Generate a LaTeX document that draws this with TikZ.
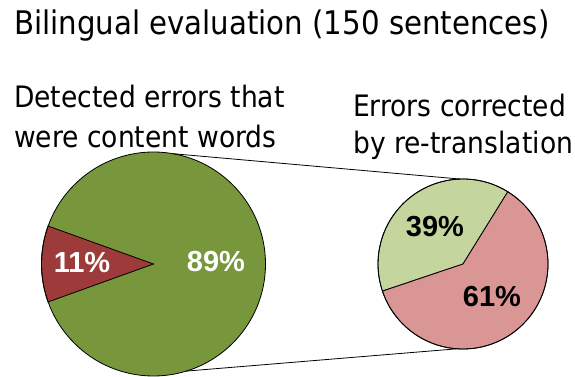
\documentclass[tikz,border=0pt]{standalone}
\usepackage{fontspec}
\newfontfamily\capfont{DejaVu Sans Condensed}
\newfontfamily\numfont{Liberation Sans}[BoldFont={Liberation Sans Bold}]
\definecolor{biggreen}{RGB}{120,151,60}
\definecolor{bigred}{RGB}{157,59,58}
\definecolor{lightgreen}{RGB}{196,214,158}
\definecolor{lightred}{RGB}{217,150,148}
\tikzset{
  pieline/.style={draw=black, line width=0.8pt},
  caption/.style={inner sep=0pt, align=left, anchor=base west},
  pct/.style={font=\numfont\bfseries\fontsize{29}{33}\selectfont, inner sep=0pt},
  zoomline/.style={draw=black, line width=0.8pt}
}
\begin{document}
\begin{tikzpicture}[x=1pt,y=1pt]
\useasboundingbox (0,0) rectangle (575,377);
% big pie
\coordinate (bc) at (153.5,113);
\fill[biggreen] (bc) circle[radius=112];
\filldraw[fill=bigred, pieline] (bc) -- ++(160.2:112) arc[start angle=160.2, end angle=199.8, radius=112] -- cycle;
\node[circle, minimum size=224pt, inner sep=0pt, outer sep=0pt, pieline] (big) at (bc) {};
% small pie
\coordinate (sc) at (463,113);
\filldraw[fill=lightgreen, pieline] (sc) -- ++(58.2:85) arc[start angle=58.2, end angle=198.6, radius=85] -- cycle;
\filldraw[fill=lightred, pieline] (sc) -- ++(198.6:85) arc[start angle=198.6, end angle=418.2, radius=85] -- cycle;
\node[circle, minimum size=170pt, inner sep=0pt, outer sep=0pt, pieline] (small) at (sc) {};
% zoom lines
\draw[zoomline] (big.80) -- (small.92);
\draw[zoomline] (big.-73) -- (small.-94);
% labels
\node[pct, text=white] (p11) at (82,114) {11\%};
\node[pct, text=white] (p89) at (216,115) {89\%};
\node[pct, text=black] (p39) at (435,150) {39\%};
\node[pct, text=black] (p61) at (492,80) {61\%};
% texts (base anchor of a multi-line node = last line's baseline)
\node[caption, font=\capfont\fontsize{32.5}{36}\selectfont] (title) at (14,342.5) {Bilingual evaluation (150 sentences)};
\node[caption, font=\capfont\fontsize{29.5}{40}\selectfont] (cap1) at (14,229.7) {Detected errors that\\were content words};
\node[caption, font=\capfont\fontsize{29.5}{37.3}\selectfont] (cap2) at (353,223) {Errors corrected\\by re-translation};
\end{tikzpicture}
\end{document}
